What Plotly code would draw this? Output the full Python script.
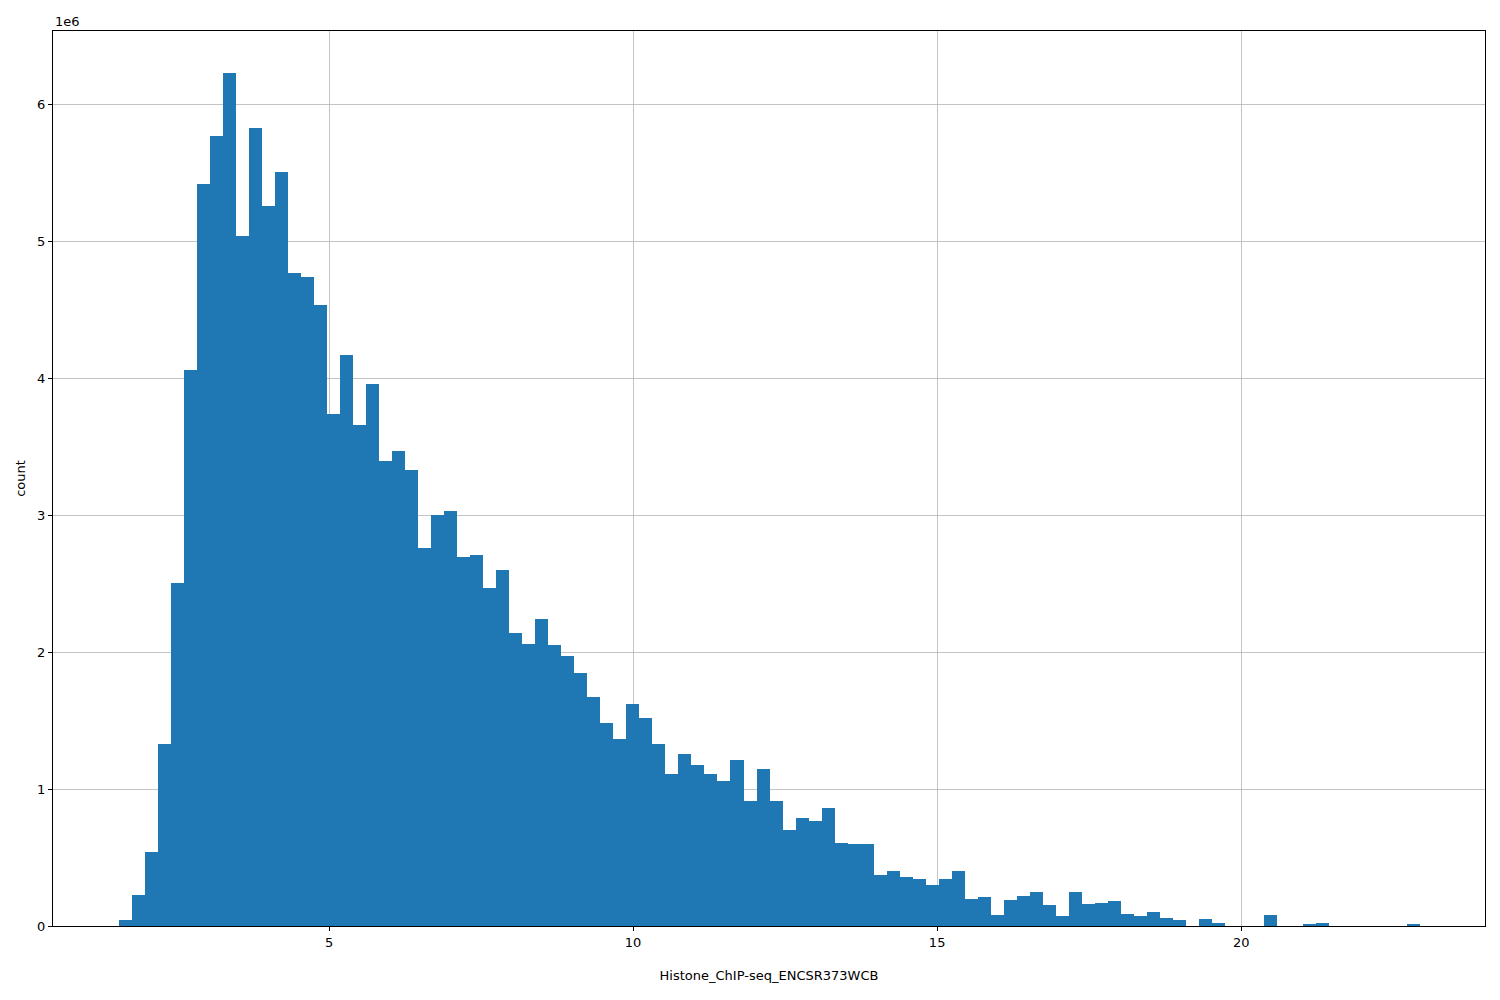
import plotly.graph_objects as go

# histogram: 100 bins, heights in millions
bin_start = 1.539
bin_width = 0.2141
counts_m = [
    0.045, 0.23, 0.54, 1.33, 2.51, 4.06, 5.42, 5.77, 6.23, 5.04,
    5.83, 5.26, 5.51, 4.77, 4.74, 4.54, 3.74, 4.17, 3.66, 3.96,
    3.40, 3.47, 3.33, 2.76, 3.00, 3.03, 2.70, 2.71, 2.47, 2.60,
    2.14, 2.06, 2.24, 2.05, 1.97, 1.85, 1.67, 1.48, 1.37, 1.62,
    1.52, 1.33, 1.11, 1.26, 1.18, 1.11, 1.06, 1.21, 0.91, 1.15,
    0.91, 0.70, 0.79, 0.77, 0.86, 0.61, 0.60, 0.60, 0.37, 0.40,
    0.36, 0.34, 0.30, 0.34, 0.40, 0.20, 0.21, 0.08, 0.19, 0.22,
    0.25, 0.15, 0.07, 0.25, 0.16, 0.17, 0.18, 0.09, 0.07, 0.10,
    0.06, 0.045, 0.0, 0.05, 0.02, 0.0, 0.0, 0.0, 0.08, 0.0,
    0.0, 0.01, 0.022, 0.0, 0.0, 0.0, 0.0, 0.0, 0.0, 0.01,
]
x_ticks = [5, 10, 15, 20]
y_ticks = [0, 1, 2, 3, 4, 5, 6]

centers = [bin_start + bin_width * (i + 0.5) for i in range(len(counts_m))]
counts = [c * 1e6 for c in counts_m]

fig = go.Figure(go.Bar(x=centers, y=counts, width=bin_width,
                       marker=dict(color="#1f77b4", line=dict(width=0))))

axis_style = dict(showline=True, linecolor="black", linewidth=1, mirror=True,
                  showgrid=True, gridcolor="rgba(176,176,176,0.75)", gridwidth=1,
                  ticks="outside", ticklen=4, tickcolor="black", zeroline=False,
                  layer="above traces",
                  tickfont=dict(family="DejaVu Sans", size=13, color="black"))

fig.update_xaxes(range=[0.46, 24.01], tickvals=x_ticks,
                 title=dict(text="Histone_ChIP-seq_ENCSR373WCB", standoff=22,
                            font=dict(family="DejaVu Sans", size=13, color="black")),
                 **axis_style)
fig.update_yaxes(range=[0, 6.54e6], tickvals=[v * 1e6 for v in y_ticks],
                 ticktext=[str(v) for v in y_ticks],
                 title=dict(text="count", standoff=8,
                            font=dict(family="DejaVu Sans", size=13, color="black")),
                 **axis_style)

fig.add_annotation(text="1e6", xref="paper", yref="paper", x=0, y=1,
                   xanchor="left", yanchor="bottom", showarrow=False,
                   font=dict(family="DejaVu Sans", size=13, color="black"))

fig.update_layout(width=1500, height=1000, plot_bgcolor="white", paper_bgcolor="white",
                  margin=dict(l=45, r=23, t=23, b=82, autoexpand=False),
                  bargap=0, showlegend=False)

fig.write_html("out.html")
